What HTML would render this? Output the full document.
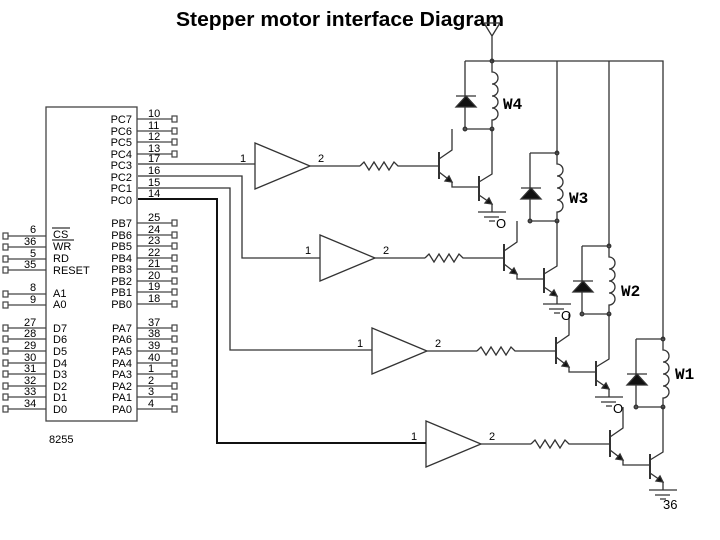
<!DOCTYPE html>
<html><head><meta charset="utf-8"><style>
html,body{margin:0;padding:0;background:#fff}
svg{display:block}
text{font-family:"Liberation Sans",sans-serif}
.pn{font-size:11px}
.nm{font-size:11px;text-anchor:end}
.w{font-family:"Liberation Mono",monospace;font-weight:bold;font-size:16px}
</style></head><body>
<svg width="720" height="540" viewBox="0 0 720 540" xmlns="http://www.w3.org/2000/svg">
<text x="176" y="26" textLength="328" lengthAdjust="spacingAndGlyphs" style="font-size:20px;font-weight:bold">Stepper motor interface Diagram</text>
<defs>
<g id="st" fill="none" stroke="#333" stroke-width="1.3">
  <line x1="465" y1="61" x2="492" y2="61"/>
  <line x1="465" y1="61" x2="465" y2="129"/>
  <path d="M456,96 L476,96 M466,96 L456,107 L476,107 Z" fill="#111"/>
  <path d="M492,61 V72 a6,6 0 0 1 0,12 a6,6 0 0 1 0,12 a6,6 0 0 1 0,12 a6,6 0 0 1 0,12 V129" />
  <line x1="465" y1="129" x2="492" y2="129"/>
  <circle cx="465" cy="129" r="1.8" fill="#555"/>
  <circle cx="492" cy="129" r="1.8" fill="#555"/>
  <circle cx="492" cy="61" r="1.8" fill="#555"/>
  <path d="M255,143 L310,166 L255,189 Z"/>
  <line x1="310" y1="166" x2="360" y2="166"/>
  <path d="M360,166 l4,-4 l5,8 l5,-8 l5,8 l5,-8 l5,8 l5,-8 l4,4 H439"/>
  <line x1="439" y1="152" x2="439" y2="179" stroke-width="2"/>
  <path d="M439,159 L452,150 V129"/>
  <path d="M439,172 L452,182 V187 H479"/>
  <path d="M452,182 l-7,-1 l4,-5 Z" fill="#111"/>
  <line x1="479" y1="176" x2="479" y2="201" stroke-width="2"/>
  <path d="M479,182 L492,174 V129"/>
  <path d="M479,195 L492,204 V212"/>
  <path d="M492,204 l-7,-1 l4,-5 Z" fill="#111"/>
  <path d="M478,212 H506 M484,217 H499 M489,221 H495"/>
</g>
</defs>
<use href="#st"/>
<use href="#st" transform="translate(65,92)"/>
<use href="#st" transform="translate(117,185)"/>
<use href="#st" transform="translate(171,278)"/>
<g font-size="11">
<text x="240" y="162">1</text><text x="318" y="162">2</text>
<text x="305" y="254">1</text><text x="383" y="254">2</text>
<text x="357" y="347">1</text><text x="435" y="347">2</text>
<text x="411" y="440">1</text><text x="489" y="440">2</text>
</g>
<g font-size="13"><text x="496" y="228">O</text><text x="561" y="320">O</text><text x="613" y="413">O</text><text x="663" y="509">36</text></g>
<text class="w" x="503" y="109">W4</text>
<text class="w" x="569" y="203">W3</text>
<text class="w" x="621" y="296">W2</text>
<text class="w" x="675" y="379">W1</text>
<g fill="none" stroke="#333" stroke-width="1.3">
  <path d="M492,61 H663 V339 M557,61 V153 M609,61 V246"/>
  <path d="M492,61 V36 L484,23 H500 L492,36"/>
  <path d="M138,164 H255"/>
  <path d="M138,176 H242 V258 H320"/>
  <path d="M138,188 H230 V350 H372"/>
  <path d="M138,199 H217 V443 H426" stroke-width="2" stroke="#111"/>
  <rect x="46" y="107" width="91" height="314" stroke="#444"/>
</g>
<g stroke="#444" stroke-width="1.2" fill="#fff">
  <path d="M137,119H172M137,131H172M137,142H172M137,154H172M137,223H172M137,235H172M137,246H172M137,258H172M137,269H172M137,281H172M137,292H172M137,304H172M137,328H172M137,339H172M137,351H172M137,363H172M137,374H172M137,386H172M137,397H172M137,409H172"/>
  <g>
  <rect x="172" y="116" width="5" height="6"/><rect x="172" y="128" width="5" height="6"/><rect x="172" y="139" width="5" height="6"/><rect x="172" y="151" width="5" height="6"/>
  <rect x="172" y="220" width="5" height="6"/><rect x="172" y="232" width="5" height="6"/><rect x="172" y="243" width="5" height="6"/><rect x="172" y="255" width="5" height="6"/><rect x="172" y="266" width="5" height="6"/><rect x="172" y="278" width="5" height="6"/><rect x="172" y="289" width="5" height="6"/><rect x="172" y="301" width="5" height="6"/>
  <rect x="172" y="325" width="5" height="6"/><rect x="172" y="336" width="5" height="6"/><rect x="172" y="348" width="5" height="6"/><rect x="172" y="360" width="5" height="6"/><rect x="172" y="371" width="5" height="6"/><rect x="172" y="383" width="5" height="6"/><rect x="172" y="394" width="5" height="6"/><rect x="172" y="406" width="5" height="6"/>
  </g>
  <path d="M8,236H46M8,247H46M8,259H46M8,270H46M8,294H46M8,305H46M8,328H46M8,339H46M8,351H46M8,363H46M8,374H46M8,386H46M8,397H46M8,409H46"/>
  <rect x="3" y="233" width="5" height="6"/><rect x="3" y="244" width="5" height="6"/><rect x="3" y="256" width="5" height="6"/><rect x="3" y="267" width="5" height="6"/>
  <rect x="3" y="291" width="5" height="6"/><rect x="3" y="302" width="5" height="6"/>
  <rect x="3" y="325" width="5" height="6"/><rect x="3" y="336" width="5" height="6"/><rect x="3" y="348" width="5" height="6"/><rect x="3" y="360" width="5" height="6"/><rect x="3" y="371" width="5" height="6"/><rect x="3" y="383" width="5" height="6"/><rect x="3" y="394" width="5" height="6"/><rect x="3" y="406" width="5" height="6"/>
</g>
<g class="pn">
<text x="148" y="117">10</text><text x="148" y="129">11</text><text x="148" y="140">12</text><text x="148" y="152">13</text><text x="148" y="162">17</text><text x="148" y="174">16</text><text x="148" y="186">15</text><text x="148" y="197">14</text>
<text x="148" y="221">25</text><text x="148" y="233">24</text><text x="148" y="244">23</text><text x="148" y="256">22</text><text x="148" y="267">21</text><text x="148" y="279">20</text><text x="148" y="290">19</text><text x="148" y="302">18</text>
<text x="148" y="326">37</text><text x="148" y="337">38</text><text x="148" y="349">39</text><text x="148" y="361">40</text><text x="148" y="372">1</text><text x="148" y="384">2</text><text x="148" y="395">3</text><text x="148" y="407">4</text>
<text x="30" y="233">6</text><text x="24" y="245">36</text><text x="30" y="257">5</text><text x="24" y="268">35</text>
<text x="30" y="291">8</text><text x="30" y="303">9</text>
<text x="24" y="326">27</text><text x="24" y="337">28</text><text x="24" y="349">29</text><text x="24" y="361">30</text><text x="24" y="372">31</text><text x="24" y="384">32</text><text x="24" y="395">33</text><text x="24" y="407">34</text>
</g>
<g class="nm">
<text x="132" y="123">PC7</text><text x="132" y="135">PC6</text><text x="132" y="146">PC5</text><text x="132" y="158">PC4</text><text x="132" y="169">PC3</text><text x="132" y="181">PC2</text><text x="132" y="192">PC1</text><text x="132" y="204">PC0</text>
<text x="132" y="227">PB7</text><text x="132" y="239">PB6</text><text x="132" y="250">PB5</text><text x="132" y="262">PB4</text><text x="132" y="273">PB3</text><text x="132" y="285">PB2</text><text x="132" y="296">PB1</text><text x="132" y="308">PB0</text>
<text x="132" y="332">PA7</text><text x="132" y="343">PA6</text><text x="132" y="355">PA5</text><text x="132" y="367">PA4</text><text x="132" y="378">PA3</text><text x="132" y="390">PA2</text><text x="132" y="401">PA1</text><text x="132" y="413">PA0</text>
</g>
<g class="pn">
<text x="53" y="238">CS</text><text x="53" y="250">WR</text><text x="53" y="262">RD</text><text x="53" y="274">RESET</text>
<text x="53" y="297">A1</text><text x="53" y="308">A0</text>
<text x="53" y="332">D7</text><text x="53" y="343">D6</text><text x="53" y="355">D5</text><text x="53" y="367">D4</text><text x="53" y="378">D3</text><text x="53" y="390">D2</text><text x="53" y="401">D1</text><text x="53" y="413">D0</text>
<text x="49" y="443">8255</text>
</g>
<path d="M52,228H70M52,240H74" stroke="#333" stroke-width="1.2"/>
</svg>
</body></html>
